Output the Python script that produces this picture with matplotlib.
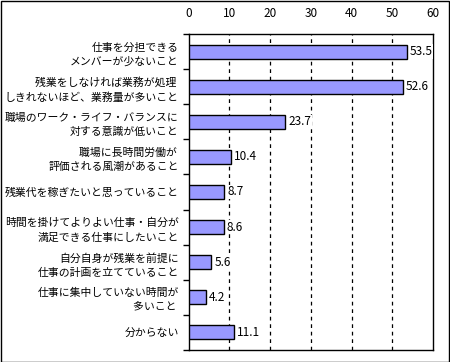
import matplotlib
matplotlib.use("Agg")
import matplotlib.pyplot as plt
from matplotlib.patches import Rectangle
import numpy as np

plt.rcParams['font.family'] = ['Noto Sans CJK JP', 'DejaVu Sans']

labels = [
    "仕事を分担できる\nメンバーが少ないこと",
    "残業をしなければ業務が処理 \nしきれないほど、業務量が多いこと",
    "職場のワーク・ライフ・バランスに\n対する意識が低いこと",
    "職場に長時間労働が \n評価される風潮があること",
    "残業代を稼ぎたいと思っていること",
    "時間を掛けてよりよい仕事・自分が\n満足できる仕事にしたいこと",
    "自分自身が残業を前提に\n仕事の計画を立てていること",
    "仕事に集中していない時間が\n多いこと ",
    "分からない",
]
values = [53.5, 52.6, 23.7, 10.4, 8.7, 8.6, 5.6, 4.2, 11.1]
xticks = [0, 10, 20, 30, 40, 50, 60]

fig = plt.figure(figsize=(4.5, 3.62), dpi=100)
# axes spans x 188.5..433 px, y 34..350 px (top-down)
ax = fig.add_axes([188.5 / 450, (362 - 350) / 362, (433 - 188.5) / 450, 316 / 362])

y = np.arange(len(labels))
ax.barh(y, values, height=0.4, color='#9999FF', edgecolor='black', linewidth=1, zorder=3)

for yi, v in zip(y, values):
    ax.text(v + 0.8, yi, f"{v:.1f}", va='center', ha='left', fontsize=8.5, zorder=5,
            bbox=dict(facecolor='white', edgecolor='none', pad=0.5), clip_on=False)

ax.set_xlim(0, 60)
ax.set_ylim(len(labels) - 0.5, -0.5)
ax.set_xticks(xticks)
ax.xaxis.tick_top()
ax.tick_params(axis='x', length=0, pad=10, labelsize=8.5)
for xv in xticks[1:-1]:
    ax.axvline(xv, color='black', linestyle=(0, (3, 3)), linewidth=0.9, zorder=1)

ax.set_yticks(y)
ax.set_yticklabels(labels, fontsize=7.8, linespacing=1.5)
ax.tick_params(axis='y', which='major', length=0, pad=7)
ax.set_yticks(np.arange(len(labels) + 1) - 0.5, minor=True)
ax.tick_params(axis='y', which='minor', length=4, width=1, direction='out', color='black')

for s in ax.spines.values():
    s.set_linewidth(1)
    s.set_color('black')

fig.patches.append(Rectangle((0.5 / 450, 0.5 / 362), 448.5 / 450, 360.5 / 362,
                             transform=fig.transFigure, fill=False,
                             edgecolor='black', linewidth=1))

fig.savefig("out.png", dpi=100)
